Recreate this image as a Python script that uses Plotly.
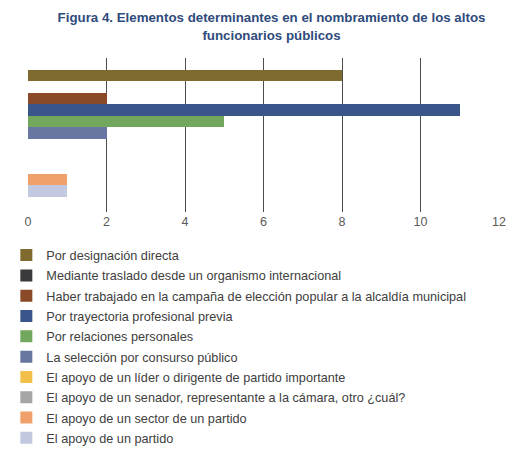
import plotly.graph_objects as go

# ------------------( 1 ) Data ---------------------------------------------------
series = ['Por designación directa',
          'Mediante traslado desde un organismo internacional',
          'Haber trabajado en la campaña de elección popular a la alcaldía municipal',
          'Por trayectoria profesional previa',
          'Por relaciones personales',
          'La selección por consurso público',
          'El apoyo de un líder o dirigente de partido importante',
          'El apoyo de un senador, representante a la cámara, otro ¿cuál?',
          'El apoyo de un sector de un partido',
          'El apoyo de un partido']
values = [8, 0, 2, 11, 5, 2, 0, 0, 1, 1]
colors = ['#7f6a2f', '#3a3a3c', '#8a4a28', '#3a5589', '#72a85e',
          '#6777a2', '#f2c04a', '#a5a5a5', '#f0a06a', '#c2c8e0']

# row order on the y axis (one blank row between the 2nd and 3rd block)
rows = series[:6] + [' '] + series[6:]
x_ticks = [0, 2, 4, 6, 8, 10, 12]

# ------------------( 2 ) Traces -------------------------------------------------
fig = go.Figure()
for name, val, col in zip(series, values, colors):
    fig.add_trace(go.Bar(x=[val],
                         y=[name],
                         orientation='h',
                         name=name,
                         legendgroup=name,
                         marker=dict(color=col, line=dict(width=0))))

# ------------------( 3 ) Layout -------------------------------------------------
# the page adds an 8px body margin, so margins are shifted by 8px
fig.update_layout(width=527, height=452,
                  margin=dict(l=20, r=36, t=50, b=248, autoexpand=False),
                  paper_bgcolor='white',
                  plot_bgcolor='white',
                  font=dict(family='Liberation Sans, Arial, sans-serif', size=12, color='#404040'),
                  barmode='overlay',
                  bargap=0,
                  title=dict(text='<b>Figura 4. Elementos determinantes en el nombramiento de los altos<br>funcionarios públicos</b>',
                             x=0.5, xanchor='center', y=0.968, yanchor='top',
                             font=dict(size=13.3, color='#2f4b7c')),
                  legend=dict(orientation='v',
                              x=-0.046, xref='paper', xanchor='left',
                              y=0.486, yref='container', yanchor='top',
                              font=dict(size=12.7, color='#404040'),
                              traceorder='grouped',
                              tracegroupgap=0.8,
                              bgcolor='rgba(0,0,0,0)'),
                  showlegend=True)

fig.update_xaxes(range=[0, 12],
                 tickvals=x_ticks,
                 showgrid=True, gridcolor='#4d4d4d', gridwidth=1,
                 zeroline=False, showline=False,
                 tickfont=dict(size=12.5, color='#595959'),
                 ticks='')

fig.update_yaxes(type='category',
                 categoryorder='array', categoryarray=rows,
                 range=[11.84, -1.52],
                 showticklabels=False, showgrid=False, zeroline=False, showline=False)

fig.write_html('out.html')
